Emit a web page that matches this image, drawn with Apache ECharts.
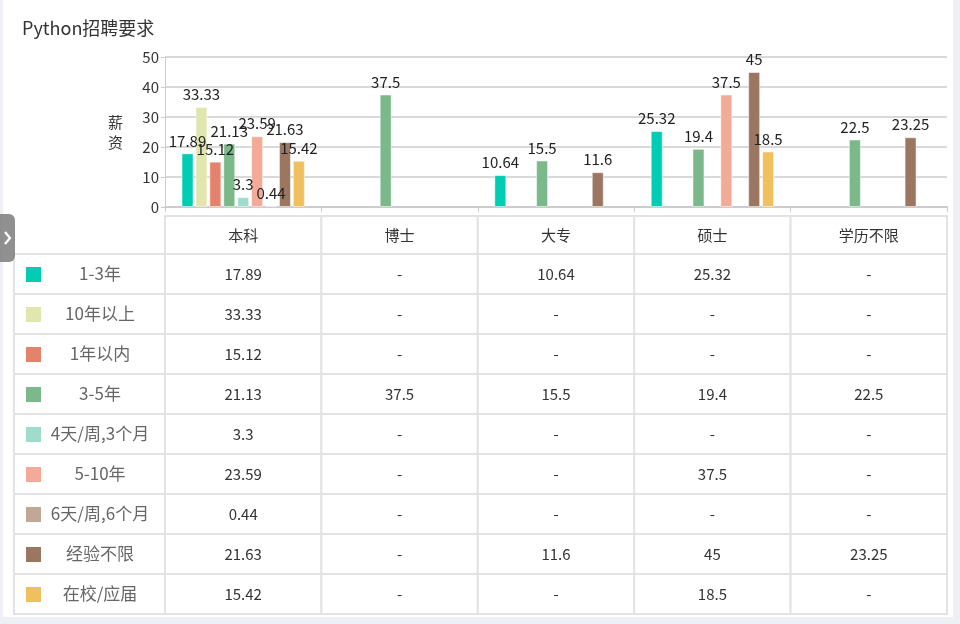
<!DOCTYPE html>
<html>
<head>
<meta charset="utf-8">
<title>Python招聘要求</title>
<script src="https://cdn.jsdelivr.net/npm/echarts@6/dist/echarts.min.js"></script>
<style>
  html, body { margin: 0; padding: 0; background: #eef0f6; }
  #panel { position: absolute; left: 3px; top: 0; width: 950px; height: 617px; background: #fff; }
  #main { position: absolute; left: 0; top: 0; width: 960px; height: 624px; }
  #tab {
    position: absolute; left: 0; top: 214px; width: 15px; height: 48px;
    background: rgba(125,125,125,0.85); border-radius: 0 6px 6px 0;
  }
  #tab svg { position: absolute; left: 3px; top: 17px; }
</style>
</head>
<body>
<div id="panel"></div>
<div id="main"></div>
<div id="tab"><svg width="10" height="14"><polyline points="2,1 7,7 2,13" fill="none" stroke="#fff" stroke-width="2.2"/></svg></div>
<script>
// 学历
const categories = ['本科', '博士', '大专', '硕士', '学历不限'];
// 工作经验
const seriesNames = ['1-3年', '10年以上', '1年以内', '3-5年', '4天/周,3个月', '5-10年', '6天/周,6个月', '经验不限', '在校/应届'];
// 平均薪资 (null = 无数据)
const exp1to3 = [17.89, null, 10.64, 25.32, null];
const exp10plus = [33.33, null, null, null, null];
const expUnder1 = [15.12, null, null, null, null];
const exp3to5 = [21.13, 37.5, 15.5, 19.4, 22.5];
const intern3m = [3.3, null, null, null, null];
const exp5to10 = [23.59, null, null, 37.5, null];
const intern6m = [0.44, null, null, null, null];
const expAny = [21.63, null, 11.6, 45, 23.25];
const graduate = [15.42, null, null, 18.5, null];
const seriesValues = [exp1to3, exp10plus, expUnder1, exp3to5, intern3m, exp5to10, intern6m, expAny, graduate];

const colors = ['#00cdb4', '#e0e6ae', '#e5826c', '#7bb88a', '#a0dccb', '#f4aa98', '#c2a797', '#9b7761', '#f0c05e'];

const W = 960;
const gridLeft = 165, gridRight = 13, gridTop = 57, gridBottom = 417;
const tableLeft = 14, tableTop = 216, headH = 38, rowH = 40;
const font = '"Noto Sans CJK SC", "Noto Sans", sans-serif';

const chart = echarts.init(document.getElementById('main'));

// 图表下方的数据表
function buildTable() {
  const els = [];
  const colW = (W - gridLeft - gridRight) / categories.length;
  const border = { fill: '#fff', stroke: '#e3e3e3', lineWidth: 2 };
  categories.forEach((c, j) => {
    const x = gridLeft + j * colW;
    els.push({ type: 'rect', shape: { x: x, y: tableTop, width: colW, height: headH }, style: border });
    els.push({ type: 'text', x: x + colW / 2, y: tableTop + headH / 2,
      style: { text: c, fill: '#333', font: '15px ' + font, align: 'center', verticalAlign: 'middle' } });
  });
  seriesNames.forEach((name, i) => {
    const y = tableTop + headH + i * rowH;
    els.push({ type: 'rect', shape: { x: tableLeft, y: y, width: gridLeft - tableLeft, height: rowH }, style: border });
    els.push({ type: 'rect', shape: { x: 26, y: y + rowH / 2 - 7, width: 15, height: 15 }, style: { fill: colors[i] } });
    els.push({ type: 'text', x: 100, y: y + rowH / 2,
      style: { text: name, fill: '#666', font: '17px ' + font, align: 'center', verticalAlign: 'middle' } });
    seriesValues[i].forEach((v, j) => {
      const x = gridLeft + j * colW;
      els.push({ type: 'rect', shape: { x: x, y: y, width: colW, height: rowH }, style: border });
      els.push({ type: 'text', x: x + colW / 2, y: y + rowH / 2,
        style: { text: v == null ? '-' : String(v), fill: '#333', font: '15px ' + font, align: 'center', verticalAlign: 'middle' } });
    });
  });
  return els;
}

const option = {
  color: colors,
  textStyle: { fontFamily: font },
  title: {
    text: 'Python招聘要求',
    left: 17,
    top: 14,
    textStyle: { fontSize: 18, fontWeight: 'normal', color: '#333' }
  },
  grid: { left: gridLeft, right: gridRight, top: gridTop, bottom: gridBottom },
  xAxis: {
    type: 'category',
    data: categories,
    axisLabel: { show: false },
    axisLine: { lineStyle: { color: '#ccc', width: 2 } },
    axisTick: { show: true, length: 5, lineStyle: { color: '#ccc' } }
  },
  yAxis: {
    type: 'value',
    min: 0,
    max: 50,
    interval: 10,
    name: '薪\n资',
    nameLocation: 'middle',
    nameRotate: 0,
    nameGap: 42,
    nameTextStyle: { fontSize: 15, color: '#333', lineHeight: 20 },
    axisLine: { show: true, lineStyle: { color: '#ccc' } },
    axisTick: { show: true, length: 4, lineStyle: { color: '#ccc' } },
    axisLabel: { fontSize: 15, color: '#333', margin: 6 },
    splitLine: { lineStyle: { color: '#ccc', width: 1.5 } }
  },
  series: seriesNames.map((name, i) => ({
    name: name,
    type: 'bar',
    data: seriesValues[i],
    barWidth: 12,
    barGap: '16%',
    itemStyle: { borderColor: 'rgba(255,255,255,0.5)', borderWidth: 1 },
    label: { show: true, position: 'top', color: '#222', fontSize: 15 }
  })),
  graphic: buildTable()
};

chart.setOption(option);
</script>
</body>
</html>
